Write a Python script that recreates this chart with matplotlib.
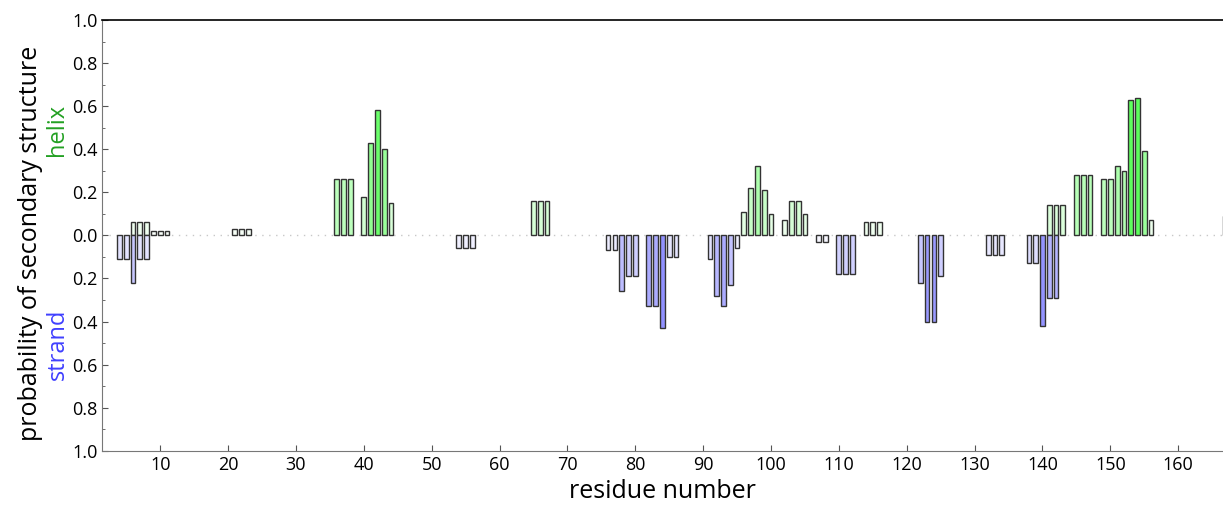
import numpy as np
import matplotlib
matplotlib.use("Agg")
import matplotlib.pyplot as plt
from matplotlib.ticker import MultipleLocator, FuncFormatter

# -----------------------------------------
# Données
# -----------------------------------------
helix_res = [6, 7, 8, 9, 10, 11, 21, 22, 23, 36, 37, 38, 40, 41, 42, 43, 44,
             65, 66, 67, 96, 97, 98, 99, 100, 102, 103, 104, 105, 114, 115, 116,
             141, 142, 143, 145, 146, 147, 149, 150, 151, 152, 153, 154, 155, 156, 167]
helix_prob = [0.06, 0.06, 0.06, 0.02, 0.02, 0.02, 0.03, 0.03, 0.03, 0.26, 0.26, 0.26,
              0.18, 0.43, 0.58, 0.40, 0.15, 0.16, 0.16, 0.16, 0.11, 0.22, 0.32, 0.21,
              0.10, 0.07, 0.16, 0.16, 0.10, 0.06, 0.06, 0.06, 0.14, 0.14, 0.14,
              0.28, 0.28, 0.28, 0.26, 0.26, 0.32, 0.30, 0.63, 0.64, 0.39, 0.07, 0.09]

strand_res = [4, 5, 6, 7, 8, 54, 55, 56, 76, 77, 78, 79, 80, 82, 83, 84, 85, 86,
              91, 92, 93, 94, 95, 107, 108, 110, 111, 112, 122, 123, 124, 125,
              132, 133, 134, 138, 139, 140, 141, 142]
strand_prob = [0.11, 0.11, 0.22, 0.11, 0.11, 0.06, 0.06, 0.06, 0.07, 0.07, 0.26, 0.19,
               0.19, 0.33, 0.33, 0.43, 0.10, 0.10, 0.11, 0.28, 0.33, 0.23, 0.06, 0.03,
               0.03, 0.18, 0.18, 0.18, 0.22, 0.40, 0.40, 0.19, 0.09, 0.09, 0.09,
               0.13, 0.13, 0.42, 0.29, 0.29]


def shade(p, base):
    # mélange blanc -> couleur pure selon la probabilité
    base = np.array(base)
    return tuple((1 - p) * np.ones(3) + p * base)


plt.rcParams['font.family'] = ['Open Sans', 'DejaVu Sans']

fig = plt.figure(figsize=(12.23, 5.07), dpi=100)
ax = fig.add_axes([0.0838, 0.111, 0.9162, 0.8495])

ax.axhline(0, color="#c8c8c8", lw=1, ls=(0, (1, 4)), zorder=0)

ax.bar(helix_res, helix_prob, width=0.7,
       color=[shade(p, (0.0, 1.0, 0.0)) for p in helix_prob],
       edgecolor="#333333", linewidth=1.0, zorder=2)
ax.bar(strand_res, [-p for p in strand_prob], width=0.7,
       color=[shade(p, (0.0, 0.0, 1.0)) for p in strand_prob],
       edgecolor="#333333", linewidth=1.0, zorder=2)

ax.set_xlim(1.5, 166.6)
ax.set_ylim(-1.0, 1.0)
ax.set_xticks(np.arange(10, 161, 10))
ax.yaxis.set_major_locator(MultipleLocator(0.2))
ax.yaxis.set_minor_locator(MultipleLocator(0.1))
ax.yaxis.set_major_formatter(FuncFormatter(lambda v, pos: "%.1f" % abs(v)))
ax.tick_params(axis="both", which="major", labelsize=13, direction="in", length=4,
               color="#555555")
ax.tick_params(axis="y", which="minor", direction="in", length=2, color="#555555")

ax.spines["right"].set_visible(False)
ax.spines["top"].set_color("black")
ax.spines["top"].set_linewidth(1.2)
ax.spines["left"].set_color("#777777")
ax.spines["bottom"].set_color("#777777")

ax.set_xlabel("residue number", fontsize=18, labelpad=4)
fig.text(0.025, 0.52, "probability of secondary structure", rotation=90,
         fontsize=18, ha="center", va="center")
fig.text(0.047, 0.744, "helix", rotation=90, fontsize=17, color="#22a022",
         ha="center", va="center")
fig.text(0.047, 0.321, "strand", rotation=90, fontsize=17, color="#4040ff",
         ha="center", va="center")

fig.savefig("out.png", dpi=100)
